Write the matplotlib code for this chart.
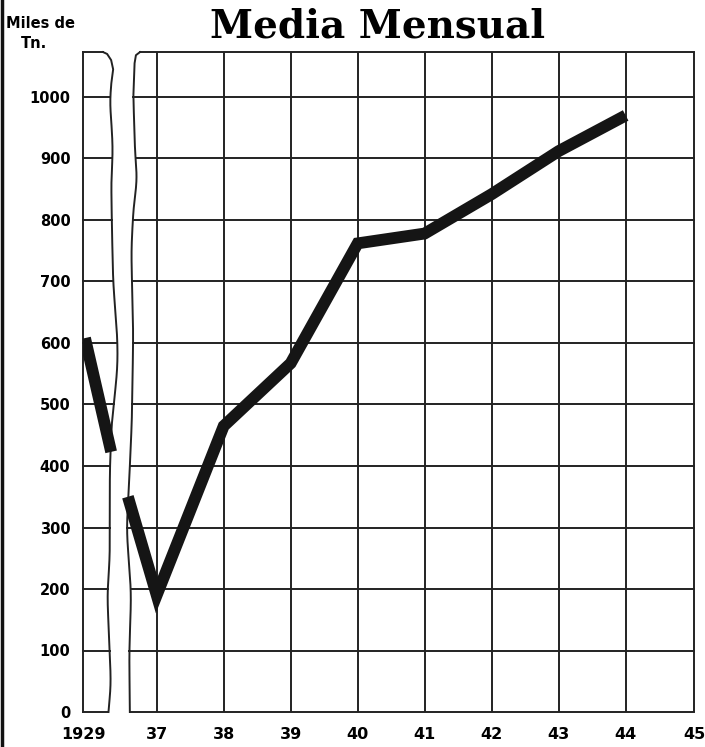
import numpy as np
import matplotlib as mpl
mpl.use('Agg')
import matplotlib.pyplot as plt
from matplotlib.lines import Line2D

# Data (Miles de Tn., media mensual)
tick_labels = ["1929", "37", "38", "39", "40", "41", "42", "43", "44", "45"]
tick_pos = [0.0, 1.1, 2.1, 3.1, 4.1, 5.1, 6.1, 7.1, 8.1, 9.12]

# broken part of the axis: 1929 panel and the start of the 1936-37 panel
early_x = [0.03, 0.42]
early_y = [608, 423]
start_x = [0.67, 1.1]
start_y = [350, 190]

years_x = [1.1, 2.1, 3.1, 4.1, 5.1, 6.1, 7.1, 8.1]
values = [190, 465, 567, 762, 778, 842, 912, 970]

# hand drawn wavy edges of the break (value, position), top corner first
left_edge_v = [1073, 1070, 1060, 1045, 1025, 1006, 950, 902, 876, 797, 697, 616, 567,
               520, 475, 393, 247, 193, 96, 36, 0]
left_edge_p = [0.30, 0.36, 0.42, 0.45, 0.44, 0.39, 0.43, 0.45, 0.42, 0.43, 0.45, 0.51, 0.52,
               0.48, 0.43, 0.40, 0.40, 0.36, 0.40, 0.42, 0.37]
right_edge_v = [1073, 1068, 1055, 1006, 898, 865, 832, 751, 616, 475, 377, 296, 193, 96, 0]
right_edge_p = [0.85, 0.79, 0.77, 0.75, 0.78, 0.82, 0.76, 0.72, 0.75, 0.73, 0.69, 0.65,
                0.72, 0.69, 0.70]

TOP = 1073
GRID = "#222222"
LW = 1.4


def smooth_edge(vs, ps, corner=3):
    """Keep the rounded corner points, smooth the long wavy run below it."""
    v_run = np.array(vs[corner:][::-1], dtype=float)
    p_run = np.array(ps[corner:][::-1], dtype=float)
    vv = np.linspace(v_run[0], v_run[-1], 400)
    pp = np.interp(vv, v_run, p_run)
    k = np.hanning(41)
    k /= k.sum()
    padded = np.concatenate([np.full(20, pp[0]), pp, np.full(20, pp[-1])])
    pp = np.convolve(padded, k, mode="valid")
    head_v = np.array(vs[:corner], dtype=float)
    head_p = np.array(ps[:corner], dtype=float)
    return np.concatenate([head_p, pp[::-1]]), np.concatenate([head_v, vv[::-1]])


fig = plt.figure(figsize=(7.05, 7.47), dpi=100)
ax = fig.add_axes([83 / 705, 35 / 747, (694 - 83) / 705, 1080 * 0.615 / 747])
ax.set_xlim(0, 9.12)
ax.set_ylim(0, 1080)
for s in ax.spines.values():
    s.set_visible(False)

# Wavy break edges
lp, lv = smooth_edge(left_edge_v, left_edge_p, corner=4)
rp, rv = smooth_edge(right_edge_v, right_edge_p, corner=3)
ax.plot(lp, lv, color=GRID, lw=LW, clip_on=False, solid_joinstyle="round")
ax.plot(rp, rv, color=GRID, lw=LW, clip_on=False, solid_joinstyle="round")

# Left panel frame
ax.plot([0, 0], [0, TOP], color=GRID, lw=LW, clip_on=False)
ax.plot([0, left_edge_p[0]], [TOP, TOP], color=GRID, lw=LW, clip_on=False)
# Right panel frame and vertical grid
ax.plot([right_edge_p[0], tick_pos[-1]], [TOP, TOP], color=GRID, lw=LW, clip_on=False)
ax.vlines(tick_pos[1:], 0, TOP, color=GRID, lw=LW, clip_on=False)

# Horizontal grid lines, stopping at the break
order_l = np.argsort(lv)
order_r = np.argsort(rv)
for v in range(0, 1001, 100):
    ax.plot([0, np.interp(v, lv[order_l], lp[order_l])], [v, v], color=GRID, lw=LW, clip_on=False)
    ax.plot([np.interp(v, rv[order_r], rp[order_r]), tick_pos[-1]], [v, v], color=GRID, lw=LW,
            clip_on=False)

# Series
kw = dict(color="#151515", lw=8.5, solid_capstyle="butt", solid_joinstyle="miter", zorder=5)
ax.plot(early_x, early_y, **kw)
ax.plot(start_x + years_x[1:], start_y + values[1:], **kw)

# Ticks
ax.set_yticks(range(0, 1001, 100))
ax.set_yticklabels([str(v) for v in range(0, 1001, 100)], fontsize=10.5, fontweight="bold")
ax.set_xticks(tick_pos)
ax.set_xticklabels(tick_labels, fontsize=11.5, fontweight="bold")
ax.tick_params(axis="y", length=0, pad=9)
ax.tick_params(axis="x", length=0, pad=11)

fig.text(378 / 705, 1 - 27 / 747, "Media Mensual", ha="center", va="center",
         fontsize=28, fontweight="bold", family="DejaVu Serif")
fig.text(6 / 705, 1 - 24 / 747, "Miles de", ha="left", va="center", fontsize=10.5, fontweight="bold")
fig.text(21 / 705, 1 - 43 / 747, "Tn.", ha="left", va="center", fontsize=10.5, fontweight="bold")

# dark scan edge on the left
fig.add_artist(Line2D([1.5 / 705, 1.5 / 705], [0, 1], color="#111111", lw=2.5,
                      transform=fig.transFigure))

fig.savefig("out.png", dpi=100)
